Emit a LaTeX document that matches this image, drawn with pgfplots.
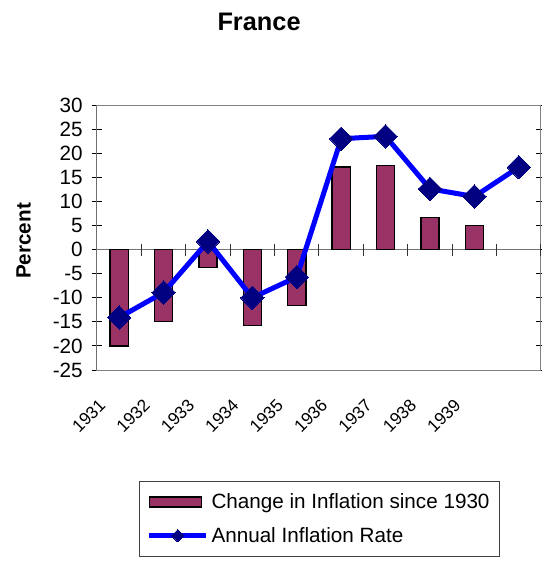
\documentclass[border=0pt]{standalone}
\usepackage{fontspec}
\setmainfont{Liberation Sans}
\usepackage{pgfplots}
\pgfplotsset{compat=1.18}
\definecolor{plum}{HTML}{993366}
\definecolor{navyblue}{HTML}{000080}

\begin{document}
\begin{tikzpicture}
\path[use as bounding box] (0,0) rectangle (406.5pt,421.5pt);
\begin{axis}[
 at={(72.75pt,144pt)}, anchor=south west, scale only axis,
 width=333pt, height=198.75pt,
 xmin=-0.5, xmax=9.5, ymin=-25, ymax=30,
 ytick={-25,-20,...,30},
 xtick={-0.376,0.624,1.624,2.624,3.624,4.624,5.624,6.624,7.624},
 xticklabels={1931,1932,1933,1934,1935,1936,1937,1938,1939},
 yticklabel style={font=\fontsize{15.5}{18}\selectfont, anchor=east, inner sep=0pt},
 /pgf/number format/assume math mode=true,
 yticklabel shift=6.5pt,
 xticklabel style={font=\fontsize{13}{15}\selectfont, rotate=45, anchor=east, inner sep=0pt},
 xticklabel shift=20pt,
 x tick style={draw=none},
 y tick style={black, line width=0.75pt},
 tick align=center, major tick length=8pt,
 axis line style={black!50, line width=0.75pt},
 title={France},
 every axis title/.style={font=\bfseries\fontsize{19}{22}\selectfont, at={(axis description cs:0.365,1.283)}, anchor=base},
 ylabel={Percent},
 every axis y label/.style={font=\bfseries\fontsize{15.5}{18}\selectfont, at={(axis description cs:-0.1655,0.487)}, rotate=90, anchor=center},
 legend style={at={(axis description cs:0.0946,-0.419)}, anchor=north west,
   draw=black!75, line width=0.75pt, font=\fontsize{15.5}{18}\selectfont,
   inner xsep=5.5pt, inner ysep=7pt, row sep=8.5pt},
 legend cell align=left,
]
\draw[black!55, line width=0.75pt] (axis cs:-0.5,0) -- (axis cs:9.5,0);
\pgfplotsinvokeforeach{0.5,1.5,2.5,3.5,4.5,5.5,6.5,7.5,8.5,9.5}{
  \draw[black!80, line width=0.75pt] (axis cs:#1,-1.25) -- (axis cs:#1,1.25);
}
\addplot[ybar, bar width=13.7pt, fill=plum, draw=black, line width=1pt,
  legend image code/.code={\draw[fill=plum, draw=black, line width=1pt] (0pt,-3.75pt) rectangle (39pt,3.75pt);}]
  coordinates {(0,-20) (1,-15) (2,-3.7) (3,-15.8) (4,-11.6) (5,17.1) (6,17.5) (7,6.7) (8,5.05)};
\addlegendentry{Change in Inflation since 1930}
\addplot[blue, line width=3.75pt, line join=round, mark=square*, mark size=6.2pt,
  mark options={rotate=45, fill=navyblue, draw=navyblue, line width=0pt},
  legend image code/.code={\draw[blue, line width=3.75pt, mark=square*, mark size=3.3pt,
    mark options={rotate=45, fill=navyblue, draw=navyblue, line width=0pt},
    mark repeat=2, mark phase=2] plot coordinates {(0pt,0pt) (21.4pt,0pt) (42.75pt,0pt)};}]
  coordinates {(0,-14.1) (1,-8.9) (2,1.7) (3,-10) (4,-5.7) (5,23.0) (6,23.5) (7,12.6) (8,11.0) (9,17.1)};
\addlegendentry{Annual Inflation Rate}
\draw[black, line width=0.75pt] (rel axis cs:0,0) -- (rel axis cs:0,1);
\end{axis}
\end{tikzpicture}
\end{document}
